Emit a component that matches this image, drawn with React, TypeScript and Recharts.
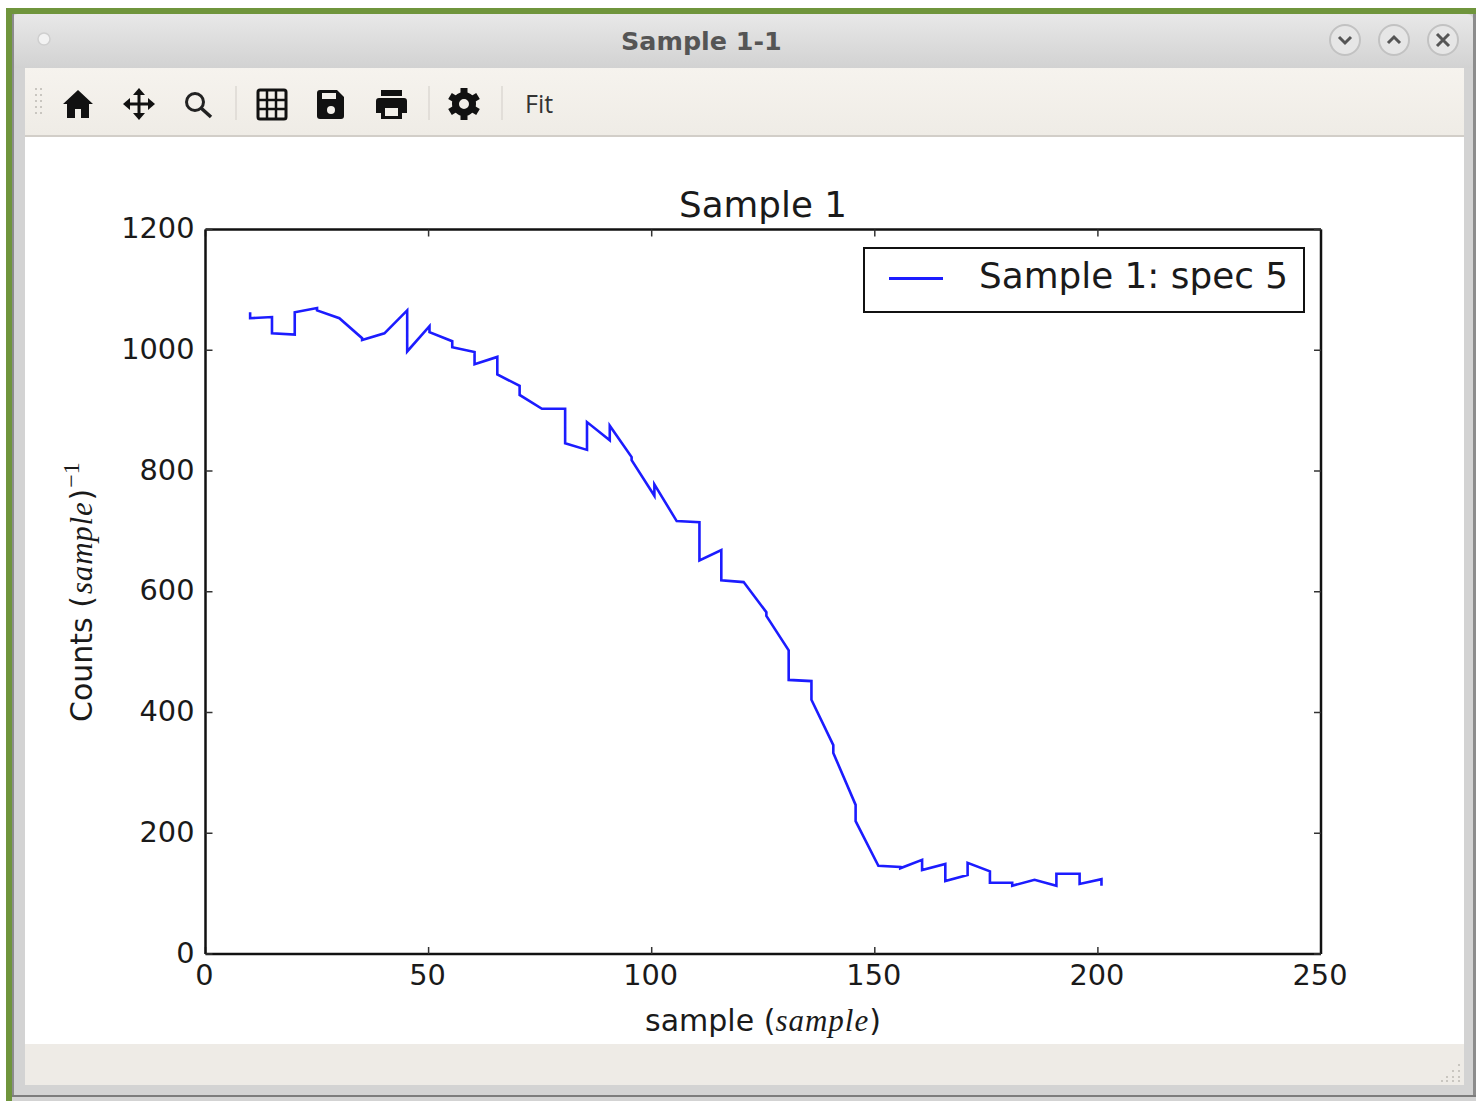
import React from 'react';
import { LineChart, Line, XAxis, YAxis, Legend } from 'recharts';

const sampleX = [
  10, 10, 14.9, 14.9, 20, 20, 25, 25, 30, 35.1, 35.1, 40.1, 45.2, 45.2, 50.2, 50.2, 55.3, 55.3, 60.3, 60.3,
  65.4, 65.4, 70.4, 70.4, 75.4, 80.6, 80.6, 85.5, 85.5, 90.6, 90.6, 95.5, 95.5, 100.6, 100.6, 105.6,
  110.7, 110.7, 115.6, 115.6, 120.6, 125.7, 125.7, 130.7, 130.7, 135.8, 135.8, 140.7, 140.7, 145.7, 145.7,
  150.8, 155.7, 155.7, 160.6, 160.6, 165.8, 165.8, 170.8, 170.8, 175.8, 175.8, 180.8, 180.8, 185.8,
  190.7, 190.7, 195.9, 195.9, 200.8, 200.8,
];
const counts = [
  1063, 1053, 1055, 1028, 1026, 1063, 1070, 1066, 1053, 1020, 1017, 1028, 1066, 998, 1040, 1030, 1015, 1005, 997, 977,
  989, 960, 941, 926, 903, 903, 846, 835, 881, 851, 875, 823, 818, 759, 778, 717,
  715, 652, 669, 619, 616, 566, 560, 503, 454, 452, 421, 346, 333, 247, 220,
  146, 144, 142, 156, 139, 149, 121, 131, 151, 137, 118, 118, 113, 123,
  113, 133, 133, 116, 124, 113,
];
const xTicks = [0, 50, 100, 150, 200, 250];
const yTicks = [0, 200, 400, 600, 800, 1000, 1200];
const seriesName = 'Sample 1: spec 5';

const rows = sampleX.map((x, i) => ({ x, counts: counts[i] }));

const SANS = '"DejaVu Sans", sans-serif';
const MATH = '"Liberation Serif", serif';
const INK = '#1a1a1a';
const BLUE = '#1c1cff';

function box(left: number, top: number, width: number, height: number, background: string): React.CSSProperties {
  return { position: 'absolute', left, top, width, height, background };
}

function LegendBox() {
  return (
    <div style={{ boxSizing: 'border-box', width: 442, height: 66, border: '2px solid #111', background: '#fff', position: 'relative' }}>
      <div style={{ position: 'absolute', left: 24, top: 28, width: 54, height: 2.5, background: BLUE }} />
      <div style={{ position: 'absolute', left: 114, top: 5, fontFamily: SANS, fontSize: 35.8, lineHeight: '44px', color: INK, whiteSpace: 'nowrap' }}>
        {seriesName}
      </div>
    </div>
  );
}

function Toolbar() {
  const c = '#111';
  return (
    <svg width={1476} height={1101} style={{ position: 'absolute', left: 0, top: 0 }}>
      {/* grip */}
      {[88, 94, 100, 106, 112].map((y) => (
        <g key={y} fill="#c9c6c0">
          <rect x={35} y={y} width={2} height={2} />
          <rect x={40} y={y} width={2} height={2} />
        </g>
      ))}
      {/* home */}
      <path d="M78 90 L93 104 L89 104 L89 118 L81 118 L81 109 L75 109 L75 118 L67 118 L67 104 L63 104 Z" fill={c} />
      {/* move */}
      <g stroke={c} strokeWidth={3} fill={c}>
        <line x1={139} y1={93} x2={139} y2={115} />
        <line x1={127} y1={104} x2={151} y2={104} />
      </g>
      <g fill={c}>
        <path d="M139 88 L145 95 L133 95 Z" />
        <path d="M139 120 L145 113 L133 113 Z" />
        <path d="M123 104 L130 98 L130 110 Z" />
        <path d="M155 104 L148 98 L148 110 Z" />
      </g>
      {/* magnifier */}
      <circle cx={195} cy={102} r={8.5} fill="none" stroke="#222" strokeWidth={3} />
      <line x1={201} y1={108} x2={211} y2={117} stroke="#222" strokeWidth={3.5} />
      {/* separators */}
      {[236, 429, 502].map((x) => (
        <line key={x} x1={x} y1={86} x2={x} y2={120} stroke="#dcd9d3" strokeWidth={1.5} />
      ))}
      {/* grid */}
      <rect x={258} y={90} width={28} height={29} rx={2} fill="none" stroke={c} strokeWidth={3} />
      {[267, 276].map((x) => <line key={x} x1={x} y1={90} x2={x} y2={119} stroke={c} strokeWidth={2.5} />)}
      {[100, 109].map((y) => <line key={y} x1={258} y1={y} x2={286} y2={y} stroke={c} strokeWidth={2.5} />)}
      {/* floppy */}
      <path d="M320 90 L337 90 L344 97 L344 116 Q344 119 341 119 L320 119 Q317 119 317 116 L317 93 Q317 90 320 90 Z" fill={c} />
      <rect x={322} y={93} width={14} height={6} fill="#f2efe9" />
      <circle cx={331} cy={110} r={4} fill="#f2efe9" />
      {/* printer */}
      <rect x={381} y={90} width={21} height={6} fill={c} />
      <path d="M379 98 L404 98 Q407 98 407 101 L407 113 L402 113 L402 119 L381 119 L381 113 L376 113 L376 101 Q376 98 379 98 Z" fill={c} />
      <rect x={385} y={108} width={13} height={8} fill="#f2efe9" />
      {/* gear */}
      <circle cx={464} cy={104} r={8.5} fill="none" stroke={c} strokeWidth={7} />
      <g stroke={c} strokeWidth={7}>
        <line x1={464} y1={88} x2={464} y2={94} />
        <line x1={464} y1={114} x2={464} y2={120} />
        <line x1={450} y1={96} x2={455} y2={99} />
        <line x1={473} y1={109} x2={478} y2={112} />
        <line x1={450} y1={112} x2={455} y2={109} />
        <line x1={473} y1={99} x2={478} y2={96} />
      </g>
      {/* window buttons */}
      <circle cx={44} cy={39} r={6} fill="#f2f2f2" stroke="#cfcfcf" strokeWidth={1.5} />
      {[1345, 1394, 1443].map((cx) => (
        <circle key={cx} cx={cx} cy={40} r={15} fill="#e6e6e6" stroke="#c2c2c2" strokeWidth={2} />
      ))}
      <path d="M1339 37 L1345 43 L1351 37" fill="none" stroke="#555" strokeWidth={3} />
      <path d="M1388 43 L1394 37 L1400 43" fill="none" stroke="#555" strokeWidth={3} />
      <path d="M1437 34 L1449 46 M1449 34 L1437 46" fill="none" stroke="#555" strokeWidth={3} />
      {/* resize grip */}
      {[[1458, 1064], [1458, 1070], [1452, 1070], [1458, 1076], [1452, 1076], [1446, 1076], [1458, 1080], [1452, 1080], [1446, 1080], [1441, 1080]].map(([x, y]) => (
        <rect key={`${x}-${y}`} x={x} y={y} width={2} height={2} fill="#c9c6c0" />
      ))}
    </svg>
  );
}

function WindowFrame() {
  return (
    <>
      <div style={box(6, 8, 1470, 1093, '#6f953c')} />
      <div style={box(12, 14, 1464, 1087, '#d3d3d3')} />
      <div style={{ ...box(12, 14, 1461, 54, ''), background: 'linear-gradient(#e8e8e8, #d2d2d2)', borderRadius: '6px 6px 0 0' }} />
      <div style={box(12, 14, 2, 1081, '#8c8c8c')} />
      <div style={box(1473, 14, 3, 1081, '#8c8c8c')} />
      <div style={box(12, 1095, 1464, 2, '#7c7c7c')} />
      <div style={{ ...box(25, 68, 1439, 67, ''), background: 'linear-gradient(#f6f3ee, #efece6)' }} />
      <div style={box(25, 135, 1439, 2, '#d2cec8')} />
      <div style={box(25, 137, 1439, 907, '#ffffff')} />
      <div style={box(25, 1044, 1439, 41, '#eeebe6')} />
      <Toolbar />
      <div style={{ position: 'absolute', left: 621, top: 24, fontFamily: SANS, fontWeight: 700, fontSize: 25.4, lineHeight: '34px', color: '#555', whiteSpace: 'nowrap' }}>
        Sample 1-1
      </div>
      <div style={{ position: 'absolute', left: 525, top: 87, fontFamily: '"Open Sans", sans-serif', fontSize: 25, lineHeight: '32px', color: '#333' }}>
        Fit
      </div>
    </>
  );
}

export default function App() {
  return (
    <div style={{ position: 'absolute', left: 0, top: 0, width: 1476, height: 1101, overflow: 'hidden', background: '#fff' }}>
      <WindowFrame />
      <div style={{ position: 'absolute', left: 0, top: 0 }}>
        <LineChart
          width={1476}
          height={1101}
          data={rows}
          margin={{ top: 228.5, right: 154, bottom: 97, left: 125.5 }}
        >
          <XAxis
            xAxisId="bottom"
            dataKey="x"
            type="number"
            domain={[0, 250]}
            ticks={xTicks}
            height={50}
            interval={0}
            tickSize={-7}
            tickMargin={18}
            axisLine={{ stroke: '#111', strokeWidth: 2.5 }}
            tickLine={{ stroke: '#333', strokeWidth: 1.5 }}
            tick={{ fill: INK, fontFamily: SANS, fontSize: 28.8, dx: -1 }}
          />
          <XAxis
            xAxisId="top"
            dataKey="x"
            orientation="top"
            type="number"
            domain={[0, 250]}
            ticks={xTicks}
            height={1}
            interval={0}
            tickSize={-7}
            axisLine={{ stroke: '#111', strokeWidth: 2.5 }}
            tickLine={{ stroke: '#333', strokeWidth: 1.5 }}
            tick={() => <g />}
          />
          <YAxis
            yAxisId="left"
            type="number"
            domain={[0, 1200]}
            ticks={yTicks}
            width={80}
            interval={0}
            tickSize={-7}
            tickMargin={18}
            axisLine={{ stroke: '#111', strokeWidth: 2.5 }}
            tickLine={{ stroke: '#333', strokeWidth: 1.5 }}
            tick={{ fill: INK, fontFamily: SANS, fontSize: 28.8, dy: -1.5 }}
          />
          <YAxis
            yAxisId="right"
            orientation="right"
            type="number"
            domain={[0, 1200]}
            ticks={yTicks}
            width={1}
            interval={0}
            tickSize={-7}
            axisLine={{ stroke: '#111', strokeWidth: 2.5 }}
            tickLine={{ stroke: '#333', strokeWidth: 1.5 }}
            tick={() => <g />}
          />
          {/* carries the top and right axes, draws nothing */}
          <Line
            xAxisId="top"
            yAxisId="right"
            dataKey="counts"
            stroke="none"
            dot={false}
            legendType="none"
            isAnimationActive={false}
          />
          <Line
            xAxisId="bottom"
            yAxisId="left"
            dataKey="counts"
            name={seriesName}
            stroke={BLUE}
            strokeWidth={2.6}
            dot={false}
            isAnimationActive={false}
          />
          <Legend
            layout="vertical"
            align="center"
            verticalAlign="middle"
            content={() => <LegendBox />}
            wrapperStyle={{ left: 863, top: 247, width: 442, height: 66 }}
          />
          <text x={763} y={217} textAnchor="middle" fontFamily={SANS} fontSize={35.7} fill={INK}>Sample 1</text>
          <text x={763} y={1031} textAnchor="middle" fontFamily={SANS} fontSize={30} fill={INK}>
            sample (<tspan fontFamily={MATH} fontStyle="italic" fontSize={31} letterSpacing={1}>sample</tspan>)
          </text>
          <text transform="translate(92 722) rotate(-90)" fontFamily={SANS} fontSize={30} fill={INK}>
            Counts (<tspan dx={2} fontFamily={MATH} fontStyle="italic" fontSize={31} letterSpacing={0.8}>sample</tspan><tspan dx={1}>)</tspan><tspan fontFamily={MATH} fontSize={24} dy={-13} dx={1}>−1</tspan>
          </text>
        </LineChart>
      </div>
    </div>
  );
}
